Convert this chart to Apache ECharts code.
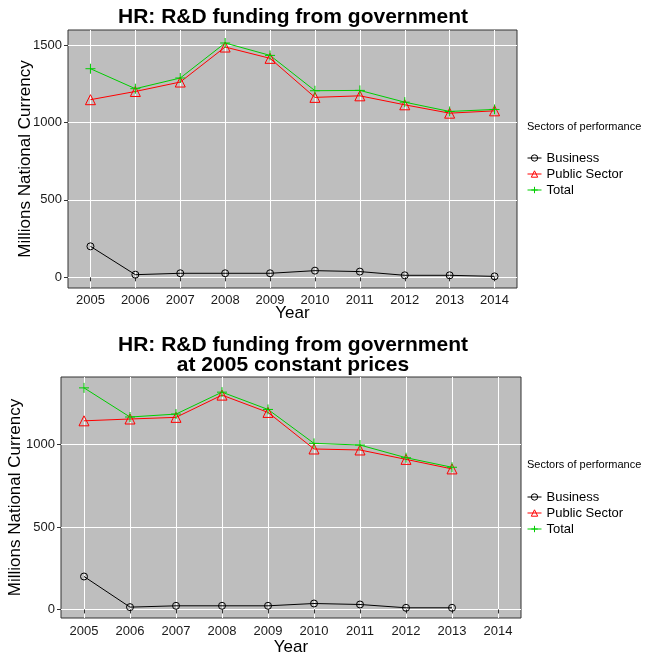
<!DOCTYPE html>
<html>
<head>
<meta charset="utf-8">
<script src="https://cdn.jsdelivr.net/npm/echarts@6/dist/echarts.min.js"></script>
<style>
  html, body { margin: 0; padding: 0; background: #ffffff; }
  #chart { width: 646px; height: 655px; }
</style>
</head>
<body>
<div id="chart"></div>
<script>
// Years on the horizontal axis
const years = ['2005', '2006', '2007', '2008', '2009', '2010', '2011', '2012', '2013', '2014'];

// Government-funded R&D, current prices (millions of national currency)
const businessCurrent = [200, 17, 26, 26, 26, 43, 37, 13, 13, 6];
const publicCurrent   = [1147, 1200, 1261, 1487, 1414, 1162, 1172, 1114, 1060, 1075];
const totalCurrent    = [1347, 1218, 1287, 1513, 1433, 1205, 1207, 1131, 1071, 1084];

// Same series at 2005 constant prices (no 2014 figure)
const businessConstant = [200, 14, 22, 22, 22, 36, 30, 10, 10, null];
const publicConstant   = [1145, 1156, 1166, 1301, 1196, 974, 968, 911, 853, null];
const totalConstant    = [1345, 1168, 1186, 1319, 1214, 1008, 998, 921, 863, null];

// Labelled values on the vertical axes
const yTicksCurrent  = [0, 500, 1000, 1500];
const yTicksConstant = [0, 500, 1000];

const sectorNames = ['Business', 'Public Sector', 'Total'];

const FONT = 'Liberation Sans, Arial, Helvetica, sans-serif';
const PANEL_BG = '#bebebe';
const BLACK = '#000000';
const RED = '#ff0000';
const GREEN = '#00cd00';
const PLUS = 'path://M0,5L10,5M5,0L5,10';

function lineSeries(name, data, gridIdx, color, symbol, size) {
  return {
    type: 'line',
    name: name,
    data: data,
    xAxisIndex: gridIdx,
    yAxisIndex: gridIdx,
    symbol: symbol,
    symbolSize: size,
    showSymbol: true,
    connectNulls: false,
    animation: false,
    lineStyle: { color: color, width: 1 },
    itemStyle: { color: 'rgba(0,0,0,0)', borderColor: color, borderWidth: 1 },
    emphasis: { disabled: true }
  };
}

function xAxisFor(gridIdx, labelMargin, nameGap) {
  return {
    type: 'category',
    gridIndex: gridIdx,
    data: years,
    boundaryGap: true,
    axisLine: { show: false },
    axisTick: { show: true, alignWithLabel: true, length: 4, lineStyle: { color: '#333333' } },
    splitLine: { show: true, alignWithLabel: true, lineStyle: { color: '#ffffff', width: 1 } },
    axisLabel: { color: '#1a1a1a', fontSize: 13, fontFamily: FONT, margin: labelMargin, interval: 0 },
    name: 'Year',
    nameLocation: 'middle',
    nameGap: nameGap,
    nameMoveOverlap: false,
    nameTextStyle: { color: '#000', fontSize: 17, fontFamily: FONT }
  };
}

function yAxisFor(gridIdx, min, max, ticks, nameGap) {
  return {
    type: 'value',
    gridIndex: gridIdx,
    min: min,
    max: max,
    splitNumber: 3,
    minInterval: 500,
    maxInterval: 500,
    axisLine: { show: false },
    axisTick: { show: true, length: 4, customValues: ticks, lineStyle: { color: '#333333' } },
    splitLine: { show: true, lineStyle: { color: '#ffffff', width: 1 } },
    axisLabel: {
      color: '#1a1a1a', fontSize: 13, fontFamily: FONT, margin: 6,
      customValues: ticks,
      formatter: function (v) { return ticks.indexOf(v) >= 0 ? String(v) : ''; }
    },
    name: 'Millions National Currency',
    nameLocation: 'middle',
    nameGap: nameGap,
    nameMoveOverlap: false,
    nameTextStyle: { color: '#000', fontSize: 17, fontFamily: FONT }
  };
}

function legendFor(top) {
  return {
    orient: 'vertical',
    left: 527,
    top: top,
    padding: 0,
    itemWidth: 14,
    itemHeight: 8,
    itemGap: 2,
    selectedMode: false,
    data: sectorNames,
    itemStyle: { borderWidth: 1 },
    lineStyle: { width: 1 },
    textStyle: { color: '#000', fontSize: 13, fontFamily: FONT, lineHeight: 14 }
  };
}

const chart = echarts.init(document.getElementById('chart'), null, { renderer: 'canvas' });

chart.setOption({
  backgroundColor: '#ffffff',
  animation: false,
  grid: [
    { left: 68, top: 30, width: 449, height: 258, outerBoundsMode: 'none', containLabel: false, show: true, backgroundColor: PANEL_BG, borderColor: '#333333', borderWidth: 1 },
    { left: 61, top: 377, width: 460, height: 241, outerBoundsMode: 'none', containLabel: false, show: true, backgroundColor: PANEL_BG, borderColor: '#333333', borderWidth: 1 }
  ],
  xAxis: [xAxisFor(0, 6, 17), xAxisFor(1, 7, 21)],
  yAxis: [yAxisFor(0, -69, 1597, yTicksCurrent, 34), yAxisFor(1, -52, 1411, yTicksConstant, 37)],
  legend: [legendFor(151), legendFor(490)],
  series: [
    lineSeries('Business', businessCurrent, 0, BLACK, 'circle', 7),
    lineSeries('Public Sector', publicCurrent, 0, RED, 'triangle', 10),
    lineSeries('Total', totalCurrent, 0, GREEN, PLUS, 10),
    lineSeries('Business', businessConstant, 1, BLACK, 'circle', 7),
    lineSeries('Public Sector', publicConstant, 1, RED, 'triangle', 10),
    lineSeries('Total', totalConstant, 1, GREEN, PLUS, 10)
  ],
  graphic: [
    { type: 'text', x: 293, y: 17, style: { text: 'HR: R&D funding from government', textAlign: 'center', textVerticalAlign: 'middle', font: 'bold 21px ' + FONT, fill: '#000' } },
    { type: 'text', x: 293, y: 355, style: { text: 'HR: R&D funding from government\nat 2005 constant prices', textAlign: 'center', textVerticalAlign: 'middle', lineHeight: 20, font: 'bold 21px ' + FONT, fill: '#000' } },
    { type: 'text', x: 527, y: 127, style: { text: 'Sectors of performance', textAlign: 'left', textVerticalAlign: 'middle', font: '11px ' + FONT, fill: '#000' } },
    { type: 'text', x: 527, y: 465, style: { text: 'Sectors of performance', textAlign: 'left', textVerticalAlign: 'middle', font: '11px ' + FONT, fill: '#000' } }
  ]
});
</script>
</body>
</html>
